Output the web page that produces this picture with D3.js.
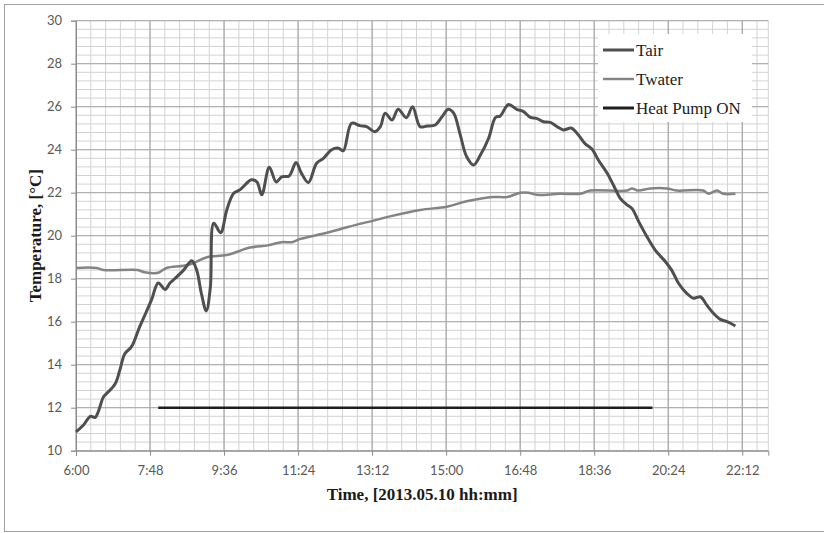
<!DOCTYPE html>
<html>
<head>
<meta charset="utf-8">
<script src="https://cdn.jsdelivr.net/npm/d3@7"></script>
<style>
  html, body { margin: 0; padding: 0; background: #fff; }
  svg { display: block; }
</style>
</head>
<body>
<svg id="chart" width="824" height="533"></svg>
<script>
// Air temperature samples (time of day, °C)
const tairTimes = ["6:00","6:11","6:21","6:28","6:40","6:45","6:57","7:04","7:11","7:21","7:33","7:50","8:00","8:10","8:17","8:22","8:37","8:49","8:56","9:03","9:10","9:16","9:21","9:31","9:40","9:50","9:59","10:11","10:16","10:24","10:31","10:42","10:52","11:00","11:11","11:21","11:29","11:39","11:51","12:01","12:13","12:23","12:30","12:42","12:54","13:04","13:16","13:24","13:31","13:41","13:50","14:02","14:11","14:22","14:32","14:44","14:54","15:03","15:11","15:20","15:30","15:40","15:50","16:02","16:12","16:19","16:31","16:43","16:53","17:03","17:12","17:22","17:32","17:42","17:51","18:03","18:13","18:23","18:33","18:42","18:55","19:04","19:14","19:24","19:31","19:41","19:53","20:05","20:20","20:29","20:39","20:51","21:01","21:11","21:20","21:30","21:40","21:50","22:02"];
const tairValues = [10.88,11.2,11.6,11.55,12.5,12.67,13.1,13.75,14.5,14.84,15.77,17.0,17.8,17.5,17.8,17.94,18.4,18.84,18.4,17.3,16.5,17.6,20.58,20.14,21.2,21.97,22.13,22.5,22.6,22.5,21.9,23.18,22.5,22.74,22.78,23.4,22.9,22.47,23.37,23.6,24.0,24.07,23.95,25.23,25.12,25.07,24.84,25.07,25.7,25.38,25.88,25.49,26.0,25.07,25.1,25.15,25.53,25.88,25.7,24.76,23.67,23.29,23.75,24.53,25.5,25.57,26.1,25.88,25.77,25.5,25.46,25.3,25.27,25.07,24.92,25.0,24.68,24.27,24.02,23.52,22.9,22.36,21.74,21.43,21.27,20.65,19.95,19.33,18.79,18.4,17.79,17.32,17.09,17.16,16.78,16.39,16.11,16.0,15.8];

// Water temperature samples (time of day, °C)
const twaterTimes = ["6:00","6:30","6:40","7:30","7:40","8:00","8:12","8:37","8:51","9:11","9:40","10:14","10:40","11:00","11:15","11:27","12:01","12:25","12:54","13:14","13:38","14:22","15:01","15:30","16:09","16:29","16:48","17:00","17:12","17:46","18:16","18:30","19:24","19:31","19:40","19:58","20:22","20:36","21:15","21:23","21:35","21:44","22:02"];
const twaterValues = [18.5,18.5,18.4,18.4,18.3,18.28,18.5,18.6,18.72,19.0,19.1,19.45,19.55,19.7,19.7,19.85,20.1,20.3,20.55,20.7,20.9,21.2,21.35,21.6,21.8,21.8,22.0,22.0,21.9,21.95,21.95,22.1,22.1,22.2,22.1,22.2,22.2,22.1,22.1,21.95,22.1,21.95,21.95];

// Heat pump operating interval, drawn at 12 °C
const pumpTimes = ["8:00","20:01"];
const pumpValues = [12, 12];

// Axis settings
const yTickLabels = [10,12,14,16,18,20,22,24,26,28,30];
const xTickLabels = ["6:00","7:48","9:36","11:24","13:12","15:00","16:48","18:36","20:24","22:12"];
const legendLabels = ["Tair","Twater","Heat Pump ON"];

const toMin = s => { const [h, m] = s.split(":").map(Number); return h * 60 + m; };
const fmt = v => { const h = Math.floor(v / 60), m = Math.round(v % 60); return h + ":" + String(m).padStart(2, "0"); };

const svg = d3.select("#chart");
const W = 824, H = 533;
const plot = { left: 76, right: 768.3, top: 20.7, bottom: 450.7 };

// Outer chart border
svg.append("rect").attr("x", 4.5).attr("y", 4.5).attr("width", 840).attr("height", 527)
  .attr("fill", "#fff").attr("stroke", "#a0a0a0").attr("stroke-width", 1);

const x = d3.scaleLinear().domain([toMin("6:00"), toMin("22:50")]).range([plot.left, plot.right]);
const y = d3.scaleLinear().domain([10, 30]).range([plot.bottom, plot.top]);

const majorX = xTickLabels.map(toMin);
const minorX = d3.range(toMin("6:00"), toMin("22:50") + 0.01, 21.6);
const minorY = d3.range(10, 30.001, 0.4);

// Minor gridlines
const grid = svg.append("g");
grid.selectAll("line.mx").data(minorX).join("line")
  .attr("x1", d => x(d)).attr("x2", d => x(d)).attr("y1", plot.top).attr("y2", plot.bottom)
  .attr("stroke", "#d3d3d3").attr("stroke-width", 1);
grid.append("line").attr("x1", plot.right).attr("x2", plot.right).attr("y1", plot.top).attr("y2", plot.bottom)
  .attr("stroke", "#d3d3d3");
grid.selectAll("line.my").data(minorY).join("line")
  .attr("x1", plot.left).attr("x2", plot.right).attr("y1", d => y(d)).attr("y2", d => y(d))
  .attr("stroke", "#d3d3d3").attr("stroke-width", 1);

// Major gridlines
grid.selectAll("line.Mx").data(majorX).join("line")
  .attr("x1", d => x(d)).attr("x2", d => x(d)).attr("y1", plot.top).attr("y2", plot.bottom)
  .attr("stroke", "#9c9c9c").attr("stroke-width", 1);
grid.selectAll("line.My").data(yTickLabels).join("line")
  .attr("x1", plot.left).attr("x2", plot.right).attr("y1", d => y(d)).attr("y2", d => y(d))
  .attr("stroke", "#a8a8a8").attr("stroke-width", 1);

// Axes
const tickFont = "Lato, 'Open Sans', sans-serif";
const yAxis = svg.append("g").attr("transform", `translate(${plot.left},0)`)
  .call(d3.axisLeft(y).tickValues(yTickLabels).tickSize(5).tickPadding(9).tickFormat(d3.format("d")));
const xAxis = svg.append("g").attr("transform", `translate(0,${plot.bottom})`)
  .call(d3.axisBottom(x).tickValues(majorX).tickSize(5).tickPadding(10).tickFormat(fmt));
[yAxis, xAxis].forEach(a => {
  a.select(".domain").attr("stroke", "#8c8c8c");
  a.selectAll(".tick line").attr("stroke", "#8c8c8c");
  a.selectAll(".tick text").attr("fill", "#595959").style("font-family", tickFont).style("font-size", "13px");
});

// Series lines
const line = d3.line().x(d => x(d[0])).y(d => y(d[1])).curve(d3.curveCatmullRom.alpha(0.5));
const pairs = (ts, vs) => ts.map((t, i) => [toMin(t), vs[i]]);

svg.append("path").datum(pairs(twaterTimes, twaterValues)).attr("d", line)
  .attr("fill", "none").attr("stroke", "#848484").attr("stroke-width", 2.5).attr("stroke-linejoin", "round");
svg.append("path").datum(pairs(tairTimes, tairValues)).attr("d", line)
  .attr("fill", "none").attr("stroke", "#4f4f4f").attr("stroke-width", 3).attr("stroke-linejoin", "round");
svg.append("path").datum(pairs(pumpTimes, pumpValues)).attr("d", d3.line().x(d => x(d[0])).y(d => y(d[1])))
  .attr("fill", "none").attr("stroke", "#1e1e1e").attr("stroke-width", 2.6);

// Axis titles
const serif = "'Liberation Serif', 'Times New Roman', serif";
svg.append("text").attr("x", (plot.left + plot.right) / 2).attr("y", 500)
  .attr("text-anchor", "middle").style("font-family", serif).style("font-weight", "bold")
  .style("font-size", "17px").attr("fill", "#1a1a1a").text("Time, [2013.05.10 hh:mm]");
svg.append("text").attr("transform", `translate(41,${(plot.top + plot.bottom) / 2}) rotate(-90)`)
  .attr("text-anchor", "middle").style("font-family", serif).style("font-weight", "bold")
  .style("font-size", "17px").attr("fill", "#1a1a1a").text("Temperature, [°C]");

// Legend
const legendColors = ["#4f4f4f", "#848484", "#1e1e1e"];
const leg = svg.append("g");
leg.append("rect").attr("x", 598).attr("y", 34).attr("width", 154).attr("height", 88).attr("fill", "#fff");
legendLabels.forEach((lab, i) => {
  const ly = 50 + i * 29;
  leg.append("line").attr("x1", 603).attr("x2", 634).attr("y1", ly).attr("y2", ly)
    .attr("stroke", legendColors[i]).attr("stroke-width", i === 1 ? 2.5 : 3);
  leg.append("text").attr("x", 636).attr("y", ly + 6).style("font-family", serif)
    .style("font-size", "17px").attr("fill", "#222").text(lab);
});
</script>
</body>
</html>
